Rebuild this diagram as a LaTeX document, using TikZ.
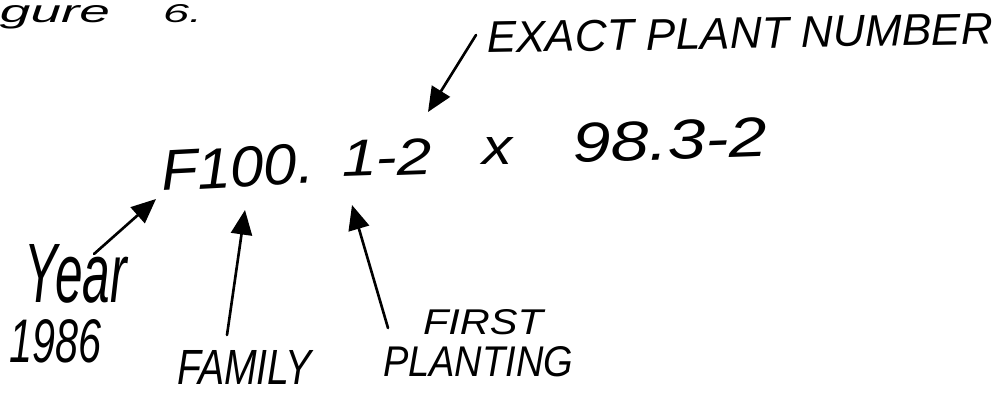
\documentclass[tikz,border=0pt]{standalone}
\usepackage{fontspec}
\usepackage{graphicx}
\setmainfont{Liberation Sans}
\usetikzlibrary{arrows.meta}
\newcommand{\hw}[3]{\resizebox{#1\dimexpr0.02cm\relax}{#2\dimexpr0.02cm\relax}{\itshape #3}}
\tikzset{
  lbl/.style={anchor=base west, inner sep=0pt, outer sep=0pt},
  pointer/.style={line width=1.5pt, line cap=round, -{Triangle[length=14pt,width=12pt]}}
}
\begin{document}
\begin{tikzpicture}[x={(0.02cm,0)}, y={(0,-0.02cm)}]
\useasboundingbox (0,0) rectangle (1003,394);
% title (cropped at the left edge)
\node[lbl] (t1) at (0,23) {\hw{110}{17}{gure}};
\node[lbl] (t2) at (163,23) {\hw{39}{18}{6.}};
% label at top
\node[lbl, rotate=1] (exact) at (487,53) {\hw{506}{31}{EXACT PLANT NUMBER}};
% main code
\node[lbl, rotate=3] (f100) at (162,191) {\hw{153}{40}{F100.}};
\node[lbl, rotate=2] (onetwo) at (342,177) {\hw{91}{36}{1-2}};
\node[lbl] (times) at (482,165) {\hw{30}{27}{x}};
\node[lbl, rotate=2] (ninety) at (573,163) {\hw{195}{39}{98.3-2}};
% lower labels
\node[lbl] (year) at (25,303) {\hw{102}{58}{Year}};
\node[lbl] (yr) at (10,363) {\hw{92}{43}{1986}};
\node[lbl] (family) at (177,384) {\hw{135}{34}{FAMILY}};
\node[lbl] (first) at (423,335) {\hw{120}{25}{FIRST}};
\node[lbl] (planting) at (383,377) {\hw{190}{30}{PLANTING}};
% arrow ends
\coordinate (ea) at (476,35);
\coordinate (eb) at (428,112);
\coordinate (ya) at (94,254);
\coordinate (yb) at (156,199);
\coordinate (fa) at (227,335);
\coordinate (fb) at (245,210);
\coordinate (pa) at (388,328);
\coordinate (pb) at (352,205);
\draw[pointer] (ea) -- (eb);
\draw[pointer] (ya) -- (yb);
\draw[pointer] (fa) -- (fb);
\draw[pointer] (pa) -- (pb);
\end{tikzpicture}
\end{document}
